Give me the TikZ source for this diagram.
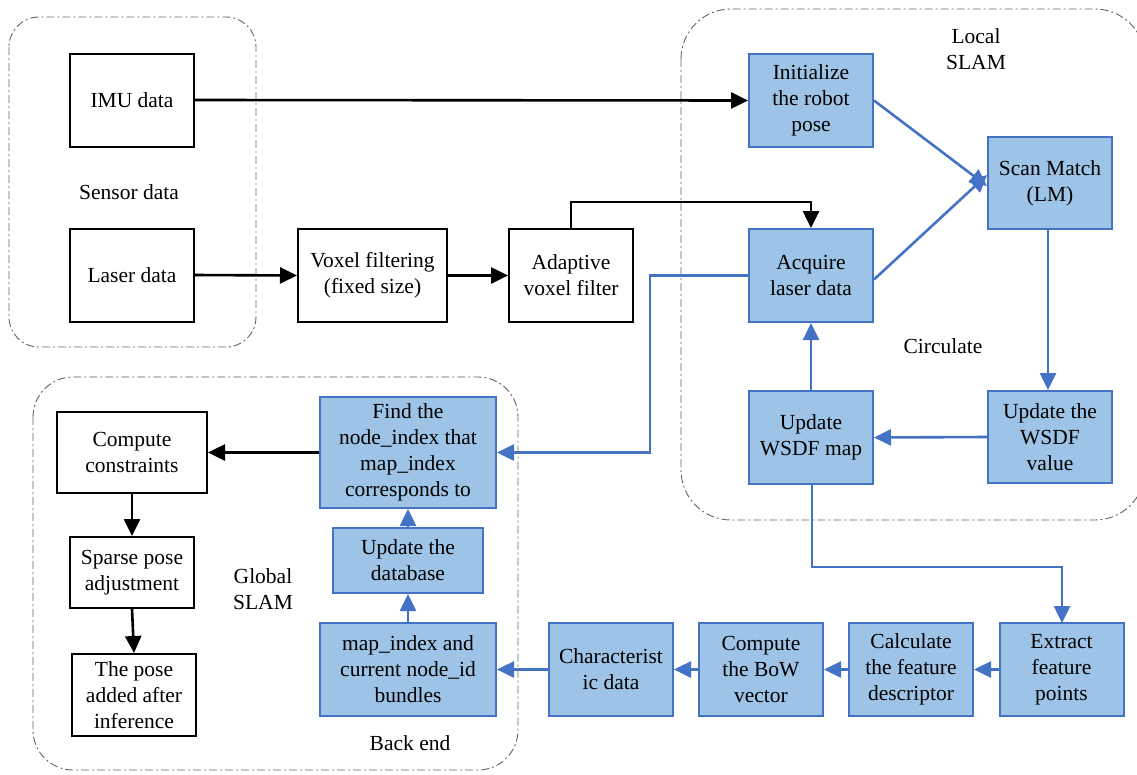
\documentclass[tikz,border=0pt]{standalone}
\usepackage{fontspec}
\setmainfont{Liberation Serif}
\usetikzlibrary{arrows.meta}
\definecolor{boxfill}{RGB}{157,195,230}
\definecolor{boxline}{RGB}{68,114,196}
\definecolor{regline}{RGB}{100,100,100}
\begin{document}
\begin{tikzpicture}[x=1pt,y=-1pt,
  every node/.style={font=\fontsize{21.5}{26}\selectfont, align=center, inner sep=0pt},
  plainbox/.style={draw=black, line width=2pt, fill=white, minimum width=124pt, minimum height=93pt},
  bluebox/.style={draw=boxline, line width=2pt, fill=boxfill, minimum width=124pt, minimum height=93pt},
  region/.style={draw=regline, line width=0.9pt, dash pattern=on 8pt off 3pt on 2pt off 3pt},
  blackflow/.style={draw=black, line width=2.6pt, -{Triangle[length=17pt,width=16pt]}},
  blueflow/.style={draw=boxline, line width=2.6pt, -{Triangle[length=17pt,width=16pt]}},
  caption/.style={fill=none}]
\useasboundingbox (0,0) rectangle (1137,774);
\clip (0,0) rectangle (1137,774);

% grouping regions
\draw[region, rounded corners=30pt] (9,17) rectangle (256,347);
\draw[region, rounded corners=50pt] (681,9) rectangle (1145,520);
\draw[region, rounded corners=40pt] (33,377) rectangle (518,770);

% region captions
\node[caption] (sensorlbl) at (129,192) {Sensor data};
\node[caption] (locallbl) at (976,49) {Local\\SLAM};
\node[caption] (circlbl) at (943,346) {Circulate};
\node[caption] (globallbl) at (263,589) {Global\\SLAM};
\node[caption] (backlbl) at (410,743) {Back end};

% sensor inputs and pre-filtering
\node[plainbox] (imu) at (132,100) {IMU data};
\node[plainbox] (laser) at (132,275) {Laser data};
\node[plainbox, minimum width=149pt] (voxel) at (372.5,275.5) {Voxel filtering\\(fixed size)};
\node[plainbox] (adapt) at (571,275.5) {Adaptive\\voxel filter};

% local SLAM loop
\node[bluebox] (init) at (811,100.5) {Initialize\\the robot\\pose};
\node[bluebox, minimum height=92pt] (scan) at (1050,183) {Scan Match\\(LM)};
\node[bluebox] (acq) at (811,275.5) {Acquire\\laser data};
\node[bluebox] (upmap) at (811,437.5) {Update\\WSDF map};
\node[bluebox, minimum height=92pt] (upval) at (1050,437) {Update the\\WSDF\\value};

% feature chain
\node[bluebox] (extract) at (1061.5,669.5) {Extract\\feature\\points};
\node[bluebox] (calc) at (911,669.5) {Calculate\\the feature\\descriptor};
\node[bluebox] (bow) at (761,669.5) {Compute\\the BoW\\vector};
\node[bluebox] (charc) at (611,669.5) {Characterist\\ic data};

% back end
\node[bluebox, minimum width=176pt] (mapidx) at (408,669.5) {map\_index and\\current node\_id\\bundles};
\node[bluebox, minimum width=150pt, minimum height=65pt] (updb) at (408,560.5) {Update the\\database};
\node[bluebox, minimum width=176pt, minimum height=111pt] (find) at (408,452.5) {Find the\\node\_index that\\map\_index\\corresponds to};

% global SLAM
\node[plainbox, minimum width=150pt, minimum height=81pt] (cc) at (132,452.5) {Compute\\constraints};
\node[plainbox, minimum height=71pt] (sparse) at (132,572.5) {Sparse pose\\adjustment};
\node[plainbox, minimum height=82pt] (pose) at (134,695) {The pose\\added after\\inference};

% black connectors
\draw[blackflow] (imu.east) -- (init.west);
\draw[blackflow] (laser.east) -- (voxel.west);
\draw[blackflow] (voxel.east) -- (adapt.west);
\draw[blackflow] (adapt.north) -- (571,202) -| (acq.north);
\draw[blackflow] (find.west) -- (cc.east);
\draw[blackflow] (cc.south) -- (sparse.north);
\draw[blackflow] (sparse.south) -- (pose.north);

% blue connectors
\draw[blueflow] (init.east) -- ([yshift=-3pt]scan.west);
\draw[blueflow] ([yshift=-4pt]acq.east) -- ([yshift=8pt]scan.west);
\draw[blueflow] ([xshift=-2pt]scan.south) -- ([xshift=-2pt]upval.north);
\draw[blueflow] (upval.west) -- (upmap.east);
\draw[blueflow] (upmap.north) -- (acq.south);
\draw[blueflow] ([xshift=1pt]upmap.south) |- (1062,567) -- (1062,623);
\draw[blueflow] (extract.west) -- (calc.east);
\draw[blueflow] (calc.west) -- (bow.east);
\draw[blueflow] (bow.west) -- (charc.east);
\draw[blueflow] (charc.west) -- (mapidx.east);
\draw[blueflow] (mapidx.north) -- (updb.south);
\draw[blueflow] (updb.north) -- (find.south);
\draw[blueflow] (acq.west) -- (650,275.5) |- (find.east);
\end{tikzpicture}
\end{document}
